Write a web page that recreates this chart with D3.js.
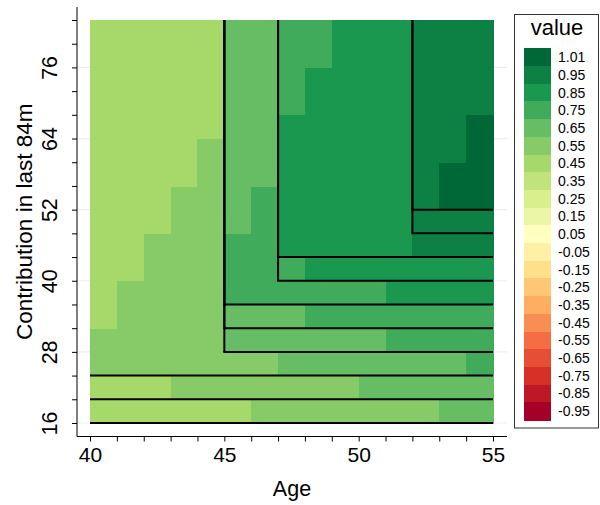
<!DOCTYPE html>
<html>
<head>
<meta charset="utf-8">
<script src="https://cdn.jsdelivr.net/npm/d3@7"></script>
<style>
  html, body { margin: 0; padding: 0; background: #fff; }
  svg { display: block; font-family: "Liberation Sans", Arial, Helvetica, sans-serif; }
</style>
</head>
<body>
<svg id="chart" width="600" height="505"></svg>
<script>
// ---------- data ----------
const ages = [40, 41, 42, 43, 44, 45, 46, 47, 48, 49, 50, 51, 52, 53, 54];           // cell start (width 1 year)
const contribs = [16, 20, 24, 28, 32, 36, 40, 44, 48, 52, 56, 60, 64, 68, 72, 76, 80]; // cell start (height 4)

const row16 = [0.45, 0.45, 0.45, 0.45, 0.45, 0.45, 0.55, 0.55, 0.55, 0.55, 0.55, 0.55, 0.55, 0.65, 0.65];
const row20 = [0.45, 0.45, 0.45, 0.55, 0.55, 0.55, 0.55, 0.55, 0.55, 0.55, 0.65, 0.65, 0.65, 0.65, 0.65];
const row24 = [0.55, 0.55, 0.55, 0.55, 0.55, 0.55, 0.55, 0.65, 0.65, 0.65, 0.65, 0.65, 0.65, 0.65, 0.75];
const row28 = [0.55, 0.55, 0.55, 0.55, 0.55, 0.65, 0.65, 0.65, 0.65, 0.65, 0.65, 0.75, 0.75, 0.75, 0.75];
const row32 = [0.45, 0.55, 0.55, 0.55, 0.55, 0.65, 0.65, 0.65, 0.75, 0.75, 0.75, 0.75, 0.75, 0.75, 0.75];
const row36 = [0.45, 0.55, 0.55, 0.55, 0.55, 0.75, 0.75, 0.75, 0.75, 0.75, 0.75, 0.85, 0.85, 0.85, 0.85];
const row40 = [0.45, 0.45, 0.55, 0.55, 0.55, 0.75, 0.75, 0.75, 0.85, 0.85, 0.85, 0.85, 0.85, 0.85, 0.85];
const row44 = [0.45, 0.45, 0.55, 0.55, 0.55, 0.75, 0.75, 0.85, 0.85, 0.85, 0.85, 0.85, 0.95, 0.95, 0.95];
const row48 = [0.45, 0.45, 0.45, 0.55, 0.55, 0.65, 0.75, 0.85, 0.85, 0.85, 0.85, 0.85, 0.95, 0.95, 0.95];
const row52 = [0.45, 0.45, 0.45, 0.55, 0.55, 0.65, 0.75, 0.85, 0.85, 0.85, 0.85, 0.85, 0.95, 1.01, 1.01];
const row56 = [0.45, 0.45, 0.45, 0.45, 0.55, 0.65, 0.65, 0.85, 0.85, 0.85, 0.85, 0.85, 0.95, 1.01, 1.01];
const row60 = [0.45, 0.45, 0.45, 0.45, 0.55, 0.65, 0.65, 0.85, 0.85, 0.85, 0.85, 0.85, 0.95, 0.95, 1.01];
const row64 = [0.45, 0.45, 0.45, 0.45, 0.45, 0.65, 0.65, 0.85, 0.85, 0.85, 0.85, 0.85, 0.95, 0.95, 1.01];
const row68 = [0.45, 0.45, 0.45, 0.45, 0.45, 0.65, 0.65, 0.75, 0.85, 0.85, 0.85, 0.85, 0.95, 0.95, 0.95];
const row72 = [0.45, 0.45, 0.45, 0.45, 0.45, 0.65, 0.65, 0.75, 0.85, 0.85, 0.85, 0.85, 0.95, 0.95, 0.95];
const row76 = [0.45, 0.45, 0.45, 0.45, 0.45, 0.65, 0.65, 0.75, 0.75, 0.85, 0.85, 0.85, 0.95, 0.95, 0.95];
const row80 = [0.45, 0.45, 0.45, 0.45, 0.45, 0.65, 0.65, 0.75, 0.75, 0.85, 0.85, 0.85, 0.95, 0.95, 0.95];
const valueRows = [row16, row20, row24, row28, row32, row36, row40, row44, row48, row52,
                   row56, row60, row64, row68, row72, row76, row80];

// outlined regions: [age >= min, contribution >= min]
const boxAgeMin     = [40, 40, 40, 45, 45, 45, 47, 47, 52, 52];
const boxContribMin = [16, 20, 24, 28, 32, 36, 40, 44, 48, 52];

// legend levels
const levels = [1.01, 0.95, 0.85, 0.75, 0.65, 0.55, 0.45, 0.35, 0.25, 0.15, 0.05,
                -0.05, -0.15, -0.25, -0.35, -0.45, -0.55, -0.65, -0.75, -0.85, -0.95];

const xTickValues = [40, 41, 42, 43, 44, 45, 46, 47, 48, 49, 50, 51, 52, 53, 54, 55];
const xTickLabels = [40, 45, 50, 55];
const yTickValues = [16, 20, 24, 28, 32, 36, 40, 44, 48, 52, 56, 60, 64, 68, 72, 76, 80, 84];
const yTickLabels = [16, 28, 40, 52, 64, 76];

// ---------- layout ----------
const panel = { left: 90, right: 493, top: 20, bottom: 423 };
const axisX0 = 77, axisX1 = 507, axisY0 = 7, axisY1 = 436.5;
const ageMax = 55, contribMax = 84;

const svg = d3.select("#chart");

const x = d3.scaleLinear().domain([40, ageMax]).range([panel.left, panel.right]);
const y = d3.scaleLinear().domain([16, contribMax]).range([panel.bottom, panel.top]);

// palette: RdYlGn 11 with midpoints -> 21 classes, green first
const base = d3.schemeRdYlGn[11].slice().reverse();
const palette = [];
for (let i = 0; i < 21; i++) {
  if (i % 2 === 0) palette.push(base[i / 2]);
  else palette.push(d3.interpolateRgb(base[(i - 1) / 2], base[(i + 1) / 2])(0.5));
}
const color = d3.scaleOrdinal().domain(levels).range(palette);

// gridlines
svg.append("g").selectAll("line").data(yTickLabels).join("line")
  .attr("x1", axisX0).attr("x2", axisX1)
  .attr("y1", d => y(d)).attr("y2", d => y(d))
  .attr("stroke", "#ebf0f5").attr("stroke-width", 1.2);

// cells
const cells = [];
valueRows.forEach((row, j) => row.forEach((v, i) => cells.push({ a: ages[i], c: contribs[j], v })));
svg.append("g").attr("shape-rendering", "crispEdges")
  .selectAll("rect").data(cells).join("rect")
  .attr("x", d => x(d.a))
  .attr("y", d => y(d.c + 4))
  .attr("width", d => x(d.a + 1) - x(d.a) + 0.6)
  .attr("height", d => y(d.c) - y(d.c + 4) + 0.6)
  .attr("fill", d => color(d.v));

// region outlines (left + bottom edges; top/right sit on panel border)
const boxes = boxAgeMin.map((a, i) => ({ a, c: boxContribMin[i] }));
const og = svg.append("g").attr("stroke", "#000").attr("stroke-width", 2).attr("fill", "none");
og.selectAll("line.b").data(boxes).join("line").attr("class", "b")
  .attr("x1", d => x(d.a) - (d.a > 40 ? 1 : 0)).attr("x2", x(ageMax))
  .attr("y1", d => y(d.c)).attr("y2", d => y(d.c));
og.selectAll("line.l").data(boxes.filter(d => d.a > 40)).join("line").attr("class", "l")
  .attr("x1", d => x(d.a)).attr("x2", d => x(d.a))
  .attr("y1", d => y(d.c)).attr("y2", y(contribMax));

// x axis
const xAxis = svg.append("g").attr("transform", `translate(0,${axisY1})`)
  .call(d3.axisBottom(x).tickValues(xTickValues).tickSize(5).tickPadding(6)
    .tickFormat(d => xTickLabels.includes(d) ? d : ""));
xAxis.select(".domain").remove();
xAxis.append("line").attr("x1", axisX0).attr("x2", axisX1).attr("stroke", "#000").attr("stroke-width", 1);
xAxis.selectAll(".tick line").attr("stroke", "#000");
xAxis.selectAll(".tick text").attr("fill", "#000").attr("font-size", 21).attr("dy", "0.71em");

// y axis
const yAxis = svg.append("g").attr("transform", `translate(${axisX0},0)`)
  .call(d3.axisLeft(y).tickValues(yTickValues).tickSize(5)
    .tickFormat(d => yTickLabels.includes(d) ? d : ""));
yAxis.select(".domain").remove();
yAxis.append("line").attr("y1", axisY0).attr("y2", axisY1).attr("stroke", "#000").attr("stroke-width", 1);
yAxis.selectAll(".tick line").attr("stroke", "#000");
yAxis.selectAll(".tick text")
  .attr("fill", "#000").attr("font-size", 21.5)
  .attr("x", null).attr("dy", null)
  .attr("transform", "translate(-20,0) rotate(-90)")
  .attr("text-anchor", "middle");

// axis titles
svg.append("text").attr("x", (axisX0 + axisX1) / 2).attr("y", 496)
  .attr("text-anchor", "middle").attr("font-size", 21.5).attr("fill", "#000").text("Age");
svg.append("text").attr("transform", `translate(32,${(axisY0 + axisY1) / 2}) rotate(-90)`)
  .attr("text-anchor", "middle").attr("font-size", 22.5).attr("fill", "#000").text("Contribution in last 84m");

// legend
const lg = svg.append("g");
lg.append("rect").attr("x", 514.5).attr("y", 14.5).attr("width", 84).attr("height", 413.5)
  .attr("fill", "#fff").attr("stroke", "#333").attr("stroke-width", 1);
lg.append("text").attr("x", 557).attr("y", 35).attr("text-anchor", "middle")
  .attr("font-size", 22).attr("fill", "#000").text("value");
const swH = 17.7, swY0 = 48.3;
lg.append("g").attr("shape-rendering", "crispEdges").selectAll("rect").data(levels).join("rect")
  .attr("x", 524).attr("y", (d, i) => swY0 + i * swH)
  .attr("width", 27).attr("height", swH + 0.5)
  .attr("fill", d => color(d));
lg.append("g").selectAll("text").data(levels).join("text")
  .attr("x", 558).attr("y", (d, i) => swY0 + i * swH + swH / 2)
  .attr("dy", "0.36em").attr("font-size", 14).attr("fill", "#000")
  .text(d => d.toFixed(2));
</script>
</body>
</html>
